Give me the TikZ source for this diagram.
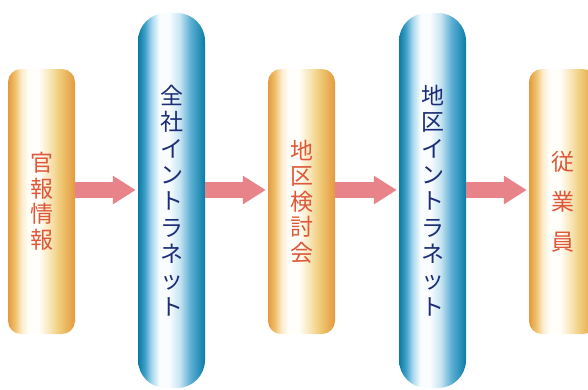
\documentclass[tikz,border=0pt]{standalone}
\usepackage{fontspec}
\newfontfamily\jp{Noto Sans CJK JP}
\usetikzlibrary{arrows.meta}
\definecolor{orE}{HTML}{E39A3E}
\definecolor{orA}{HTML}{F0BE68}
\definecolor{orB}{HTML}{FBEBCB}
\definecolor{orC}{HTML}{FFFEF8}
\definecolor{orD}{HTML}{F8E6B8}
\definecolor{orF}{HTML}{F0C874}
\definecolor{blE}{HTML}{0A7CA5}
\definecolor{blA}{HTML}{3E9EC6}
\definecolor{blB}{HTML}{A6D6EC}
\definecolor{blC}{HTML}{FAFDFF}
\definecolor{blD}{HTML}{C8E5F3}
\definecolor{blF}{HTML}{5EB0D4}
\definecolor{txtR}{HTML}{E0583A}
\definecolor{txtB}{HTML}{1C2E78}
\definecolor{arr}{HTML}{E8838A}
\pgfdeclarehorizontalshading{orangeh}{100bp}{color(0bp)=(orE); color(25bp)=(orE); color(30bp)=(orA); color(35bp)=(orB); color(40bp)=(orC); color(48bp)=(orC); color(56bp)=(orD); color(64bp)=(orF); color(75bp)=(orE); color(100bp)=(orE)}
\pgfdeclarehorizontalshading{blueh}{100bp}{color(0bp)=(blE); color(25bp)=(blE); color(30bp)=(blA); color(35bp)=(blB); color(41bp)=(blC); color(48bp)=(blC); color(56bp)=(blD); color(64bp)=(blF); color(75bp)=(blE); color(100bp)=(blE)}
\tikzset{
  obox/.style={shading=orangeh, rounded corners=13pt, minimum width=67pt, minimum height=265pt, inner sep=0pt, align=center, text=txtR, font=\jp\fontsize{23}{25.5}\selectfont},
  bbox/.style={shading=blueh, rounded corners=28pt, minimum width=67pt, minimum height=375pt, inner sep=0pt, align=center, text=txtB, font=\jp\fontsize{23}{26.3}\selectfont},
  fat/.style={draw=arr, line width=16pt, -{Triangle[length=23pt,width=27pt]}, shorten >=2pt}
}
\begin{document}
\begin{tikzpicture}[x=1pt,y=-1pt]
\useasboundingbox (0,0) rectangle (588,389);
\clip (0,0) rectangle (588,389);
\node[obox] (b1) at (41.5,201.5) {官\\報\\情\\報};
\node[bbox] (b2) at (171.5,200.5) {全\\社\\イ\\ン\\ト\\ラ\\ネ\\ッ\\ト};
\node[obox] (b3) at (301.5,201.5) {地\\区\\検\\討\\会};
\node[bbox] (b4) at (432.5,200.5) {地\\区\\イ\\ン\\ト\\ラ\\ネ\\ッ\\ト};
\node[obox, font=\jp\fontsize{23}{40}\selectfont] (b5) at (562.5,201.5) {従\\業\\員};
\draw[fat] (b1.east |- 0,190) -- (b2.west |- 0,190);
\draw[fat] (b2.east |- 0,190) -- (b3.west |- 0,190);
\draw[fat] (b3.east |- 0,190) -- (b4.west |- 0,190);
\draw[fat] (b4.east |- 0,190) -- (b5.west |- 0,190);
\end{tikzpicture}
\end{document}
